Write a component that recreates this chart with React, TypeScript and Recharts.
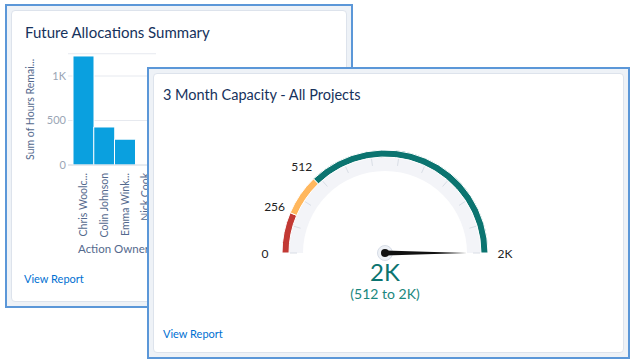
import { Bar, BarChart, CartesianGrid, Cell, Pie, PieChart, XAxis, YAxis } from 'recharts';

// bar chart data (back card)
const OWNERS = ['Chris Woolc...', 'Colin Johnson', 'Emma Wink...', 'Nick Cook'];
const HOURS_REMAINING = [1225, 427, 290, 5];
const HOUR_TICKS = [0, 500, 1000];

// gauge data (front card)
const BAND_SIZES = [256, 256, 1488];
const BAND_START_LABELS = ['0', '256', '512'];
const GAUGE_END_LABEL = '2K';
const CAPACITY = 2000;
const CAPACITY_LABEL = '2K';
const CAPACITY_RANGE = '(512 to 2K)';
const DIAL_TICKS = [1, 1, 1, 1, 1, 1, 1, 1, 1, 1, 1];

const BAND_COLORS = ['#c23934', '#ffb75d', '#0b7470'];
const FONT = 'Lato, "Open Sans", sans-serif';
const NAVY = '#16325c';
const AXIS_GRAY = '#54698d';

const barData = OWNERS.map((name, i) => ({ name, hours: HOURS_REMAINING[i] }));
const bandData = BAND_SIZES.map((value, i) => ({ name: BAND_START_LABELS[i], value }));
const gaugeMax = BAND_SIZES.reduce((a, b) => a + b, 0);
const needleData = [
  { name: 'capacity', value: CAPACITY },
  { name: 'rest', value: Math.max(gaugeMax - CAPACITY, 0) },
];
const dialData = DIAL_TICKS.map((value, i) => ({ name: `t${i}`, value }));

const RAD = Math.PI / 180;
const polar = (cx: number, cy: number, r: number, deg: number) => ({
  x: cx + r * Math.cos(deg * RAD),
  y: cy - r * Math.sin(deg * RAD),
});

const fmtHours = (v: number) => (v >= 1000 ? `${v / 1000}K` : `${v}`);

const Card = ({ left, top, width, height }: { left: number; top: number; width: number; height: number }) => (
  <div
    style={{
      position: 'absolute',
      left,
      top,
      width,
      height,
      boxSizing: 'border-box',
      border: '2px solid #5b97d8',
      background: '#eef2f7',
      padding: 4,
    }}
  >
    <div
      style={{
        width: '100%',
        height: '100%',
        boxSizing: 'border-box',
        background: '#fff',
        border: '1px solid #dde3ec',
        borderRadius: 4,
      }}
    />
  </div>
);

const OwnerTick = (props: any) => {
  const { x, y, payload } = props;
  return (
    <g transform={`translate(${x},${y})`}>
      <text
        transform="rotate(-90)"
        x={0}
        y={0}
        dy="0.36em"
        textAnchor="end"
        fontSize={10.5}
        fontFamily={FONT}
        fill={AXIS_GRAY}
      >
        {payload.value}
      </text>
    </g>
  );
};

const bandLabel = (props: any) => {
  const { cx, cy, startAngle, endAngle, index } = props;
  const p = polar(cx, cy, 120, startAngle);
  const style = { fontSize: 12, fontFamily: FONT, fill: '#222' };
  return (
    <g key={`bl${index}`}>
      <text x={p.x} y={p.y} textAnchor="middle" dominantBaseline="central" {...style}>
        {BAND_START_LABELS[index]}
      </text>
      {index === BAND_SIZES.length - 1 && (
        <text
          x={polar(cx, cy, 120, endAngle).x}
          y={polar(cx, cy, 120, endAngle).y}
          textAnchor="middle"
          dominantBaseline="central"
          {...style}
        >
          {GAUGE_END_LABEL}
        </text>
      )}
    </g>
  );
};

const dialTick = (props: any) => {
  const { cx, cy, startAngle, endAngle, index } = props;
  const line = (deg: number, k: string) => {
    const a = polar(cx, cy, 88, deg);
    const b = polar(cx, cy, 95, deg);
    return <line key={k} x1={a.x} y1={a.y} x2={b.x} y2={b.y} stroke="#d9dee6" strokeWidth={1} />;
  };
  return (
    <g key={`dt${index}`}>
      {line(startAngle, 's')}
      {index === DIAL_TICKS.length - 1 && line(endAngle, 'e')}
    </g>
  );
};

const needle = (props: any) => {
  const { cx, cy, endAngle, index } = props;
  if (index !== 0) return <g key={`nd${index}`} />;
  const tip = polar(cx, cy, 82, endAngle);
  const b1 = polar(cx, cy, 2.6, endAngle + 90);
  const b2 = polar(cx, cy, 2.6, endAngle - 90);
  return (
    <g key="needle">
      <circle cx={cx} cy={cy} r={7.5} fill="#eef1f6" stroke="#d6dce6" strokeWidth={1} />
      <polygon points={`${b1.x},${b1.y} ${tip.x},${tip.y} ${b2.x},${b2.y}`} fill="#111" />
      <circle cx={cx} cy={cy} r={4} fill="#111" />
      <text x={cx} y={cy + 28} textAnchor="middle" fontSize={24} fontFamily={FONT} fill="#0b7470">
        {CAPACITY_LABEL}
      </text>
      <text x={cx} y={cy + 46} textAnchor="middle" fontSize={14} fontFamily={FONT} fill="#1a877d">
        {CAPACITY_RANGE}
      </text>
    </g>
  );
};

const textStyle = (left: number, top: number, size: number, color: string): React.CSSProperties => ({
  position: 'absolute',
  left,
  top,
  fontSize: size,
  lineHeight: `${size + 2}px`,
  color,
  fontFamily: FONT,
  whiteSpace: 'nowrap',
});

export default function App() {
  return (
    <div style={{ position: 'absolute', left: 0, top: 0, width: 634, height: 364, background: '#fff', overflow: 'hidden' }}>
      {/* back card */}
      <Card left={5} top={4} width={348} height={304} />
      <div style={textStyle(25, 24, 15, NAVY)}>Future Allocations Summary</div>
      <div style={{ position: 'absolute', left: 0, top: 45 }}>
        <BarChart
          width={156}
          height={210}
          data={barData}
          margin={{ top: 8.75, right: 0, bottom: 0, left: 0 }}
          barCategoryGap={0}
        >
          <CartesianGrid vertical={false} stroke="#e6e9ef" />
          <XAxis
            dataKey="name"
            height={90}
            interval={0}
            tickLine={false}
            tickSize={0}
            tickMargin={8}
            axisLine={{ stroke: '#d5dae2' }}
            padding={{ left: 5, right: 0 }}
            tick={<OwnerTick />}
          />
          <YAxis
            width={68}
            domain={[0, 1250]}
            ticks={HOUR_TICKS}
            tickFormatter={fmtHours}
            tickLine={false}
            axisLine={false}
            tickSize={0}
            tickMargin={2}
            tick={{ fontSize: 11, fill: '#9aa5b5', fontFamily: FONT }}
            label={{
              value: 'Sum of Hours Remai...',
              angle: -90,
              position: 'insideLeft',
              offset: 30,
              style: { fontSize: 10.5, fill: AXIS_GRAY, fontFamily: FONT, textAnchor: 'middle' },
            }}
          />
          <Bar dataKey="hours" fill="#0aa0df" stroke="#fff" strokeWidth={1} isAnimationActive={false} />
        </BarChart>
      </div>
      <div style={textStyle(78, 242, 11.5, AXIS_GRAY)}>Action Owner: Full Name</div>
      <div style={textStyle(24, 272, 11, '#0070d2')}>View Report</div>

      {/* front card */}
      <Card left={147} top={67} width={483} height={292} />
      <div style={textStyle(163, 87, 14.5, NAVY)}>3 Month Capacity - All Projects</div>
      <div style={{ position: 'absolute', left: 147, top: 68 }}>
        <PieChart width={483} height={291}>
          <Pie
            data={[{ name: 'track', value: 1 }]}
            dataKey="value"
            cx={233}
            cy={180}
            startAngle={180}
            endAngle={0}
            innerRadius={82}
            outerRadius={96}
            fill="#f3f4f8"
            stroke="none"
            isAnimationActive={false}
          />
          <Pie
            data={dialData}
            dataKey="value"
            cx={233}
            cy={180}
            startAngle={180}
            endAngle={0}
            innerRadius={86}
            outerRadius={95}
            fill="none"
            stroke="none"
            label={dialTick}
            labelLine={false}
            isAnimationActive={false}
          />
          <Pie
            data={bandData}
            dataKey="value"
            cx={233}
            cy={180}
            startAngle={180}
            endAngle={0}
            innerRadius={96}
            outerRadius={103}
            stroke="#fff"
            strokeWidth={1}
            label={bandLabel}
            labelLine={false}
            isAnimationActive={false}
          >
            {bandData.map((d, i) => (
              <Cell key={d.name} fill={BAND_COLORS[i]} />
            ))}
          </Pie>
          <Pie
            data={needleData}
            dataKey="value"
            cx={233}
            cy={180}
            startAngle={180}
            endAngle={0}
            innerRadius={0}
            outerRadius={80}
            fill="none"
            stroke="none"
            label={needle}
            labelLine={false}
            isAnimationActive={false}
          />
        </PieChart>
      </div>
      <div style={textStyle(163, 327, 11, '#0070d2')}>View Report</div>
    </div>
  );
}
